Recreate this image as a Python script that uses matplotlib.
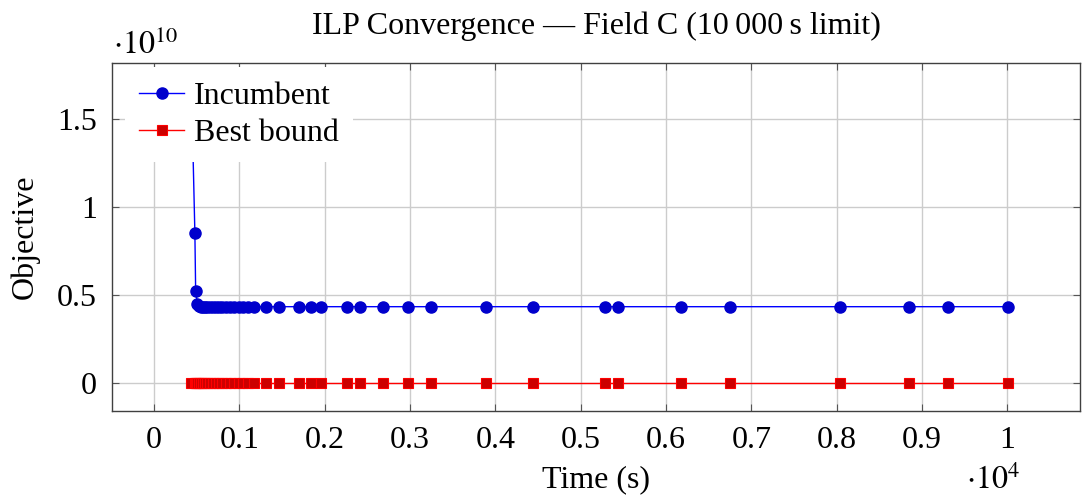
import matplotlib
matplotlib.use("Agg")
import matplotlib.pyplot as plt

# ─── Data ────────────────────────────────────────────────────────────────────
time_s = [440, 481, 490, 510, 528, 551, 574, 598, 627, 656, 692, 727, 762,
          803, 844, 891, 944, 996, 1049, 1105, 1172, 1313, 1468, 1705, 1844,
          1954, 2268, 2415, 2679, 2981, 3244, 3889, 4446, 5284, 5443, 6178,
          6752, 8034, 8848, 9300, 10010]
incumbent = [1.70e10, 0.85e10, 0.52e10, 0.45e10, 0.437e10] + [0.433e10] * 36
best_bound = [0.0] * 41

x_ticks = [0, 1000, 2000, 3000, 4000, 5000, 6000, 7000, 8000, 9000, 10000]
x_tick_labels = ["0", "0.1", "0.2", "0.3", "0.4", "0.5", "0.6", "0.7", "0.8", "0.9", "1"]
y_ticks = [0, 0.5e10, 1.0e10, 1.5e10]
y_tick_labels = ["0", "0.5", "1", "1.5"]

# ─── Style ───────────────────────────────────────────────────────────────────
FS = 23
plt.rcParams.update({
    "font.family": ["Liberation Serif", "DejaVu Serif"],
    "mathtext.fontset": "stix",
    "font.size": FS,
})

W, H = 1083, 495
fig = plt.figure(figsize=(W / 100, H / 100), dpi=100)
ax = fig.add_axes([112 / W, 1 - 411 / H, (1080 - 112) / W, (411 - 63) / H])

ax.plot(time_s, incumbent, color="#0000ff", lw=1.0, marker="o", ms=8,
        mfc="#0000cc", mec="#0000cc", label="Incumbent", zorder=3)
ax.plot(time_s, best_bound, color="#ff0000", lw=1.0, marker="s", ms=7.5,
        mfc="#cc0000", mec="#ff0000", mew=0.8, label="Best bound", zorder=3)

ax.set_xlim(-490, 10850)
ax.set_ylim(-0.159e10, 1.816e10)

ax.set_xticks(x_ticks)
ax.set_xticklabels(x_tick_labels)
ax.set_yticks(y_ticks)
ax.set_yticklabels(y_tick_labels)
ax.tick_params(direction="in", length=5, width=0.8, color="#555555",
               top=True, right=True, pad=11, labelsize=FS)

ax.grid(True, color="#cccccc", lw=1.0)
ax.set_axisbelow(True)
for s in ax.spines.values():
    s.set_color("#404040")
    s.set_linewidth(1.0)

ax.set_title("ILP Convergence — Field C (10\u2009000\u2009s limit)", fontsize=FS, pad=21)
ax.set_xlabel("Time (s)", labelpad=7)
ax.set_ylabel("Objective", labelpad=12)

fig.text(146 / W, 1 - 45 / H, r"$\cdot 10^{10}$", ha="center", va="center", fontsize=FS)
fig.text(993 / W, 1 - 489 / H, r"$\cdot 10^{4}$", ha="center", va="baseline", fontsize=FS)

leg = ax.legend(loc="upper left", bbox_to_anchor=(0.0135, 0.988),
                borderaxespad=0, frameon=True, fancybox=False,
                facecolor="white", edgecolor="none", framealpha=1.0,
                handlelength=1.4, handletextpad=0.3, labelspacing=0.24,
                borderpad=0.45, fontsize=FS)
leg.set_zorder(5)

fig.savefig("out.png", dpi=100)
